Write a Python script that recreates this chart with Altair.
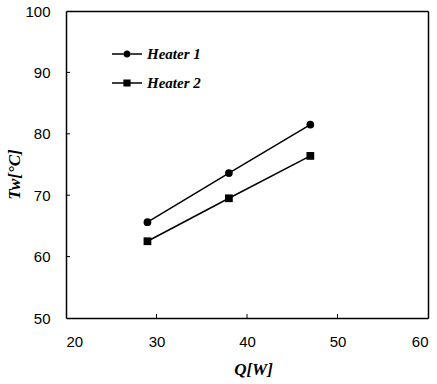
import altair as alt
import pandas as pd

# Data
Q = [29, 38, 47]
heater1 = [65.6, 73.6, 81.5]
heater2 = [62.5, 69.5, 76.4]
series_names = ["Heater 1", "Heater 2"]
x_ticks = [20, 30, 40, 50, 60]
y_ticks = [50, 60, 70, 80, 90, 100]

rows = []
for q, t in zip(Q, heater1):
    rows.append({"Q": q, "T": t, "series": series_names[0]})
for q, t in zip(Q, heater2):
    rows.append({"Q": q, "T": t, "series": series_names[1]})
df = pd.DataFrame(rows)

W, H = 362, 307

xscale = alt.Scale(domain=[20, 60], nice=False, zero=False)
yscale = alt.Scale(domain=[50, 100], nice=False, zero=False)

xaxis = alt.Axis(
    values=x_ticks, ticks=False, grid=False, domain=True, domainColor="black", domainWidth=1.5,
    labelFont="Liberation Sans", labelFontSize=15, labelColor="black", labelPadding=16,
    title="Q[W]", titleFont="Liberation Serif", titleFontSize=17, titleFontStyle="italic",
    titleFontWeight="bold", titleColor="black", titleX=187, titleY=56,
    titleBaseline="alphabetic", titleAlign="center",
)
yaxis = alt.Axis(
    values=y_ticks, ticks=False, grid=False, domain=True, domainColor="black", domainWidth=1.5,
    labelFont="Liberation Sans", labelFontSize=15, labelColor="black", labelPadding=16,
    title="Tw[°C]", titleFont="Liberation Serif", titleFontSize=17, titleFontStyle="italic",
    titleFontWeight="bold", titleColor="black", titleX=-52, titleY=163,
    titleAngle=270, titleAlign="center", titleBaseline="middle",
)
frame_x = alt.Axis(orient="top", labels=False, ticks=False, grid=False, title=None,
                   domain=True, domainColor="black", domainWidth=1.5)
frame_y = alt.Axis(orient="right", labels=False, ticks=False, grid=False, title=None,
                   domain=True, domainColor="black", domainWidth=1.5)

base = alt.Chart(df)

lines = base.mark_line(color="black", strokeWidth=1.5).encode(
    x=alt.X("Q:Q", scale=xscale, axis=xaxis),
    y=alt.Y("T:Q", scale=yscale, axis=yaxis),
    detail="series:N",
)

frame = base.mark_point(opacity=0).encode(
    x=alt.X("Q:Q", scale=xscale, axis=frame_x),
    y=alt.Y("T:Q", scale=yscale, axis=frame_y),
)

points = base.mark_point(filled=True, color="black", opacity=1, size=60).encode(
    x=alt.X("Q:Q", scale=xscale, axis=None),
    y=alt.Y("T:Q", scale=yscale, axis=None),
    shape=alt.Shape("series:N", scale=alt.Scale(domain=series_names, range=["circle", "square"]), legend=None),
)

# legend-only layer (no rows drawn), custom symbols: line + marker
circ_path = ("M-1,-0.045H-0.22V0.045H-1Z M0.22,-0.045H1V0.045H0.22Z "
             "M-0.24,0A0.24,0.24 0 1,0 0.24,0A0.24,0.24 0 1,0 -0.24,0Z")
sq_path = ("M-1,-0.045H-0.22V0.045H-1Z M0.22,-0.045H1V0.045H0.22Z "
           "M-0.24,-0.24H0.24V0.24H-0.24Z")

legend_layer = base.transform_filter("datum.T < 0").mark_point(
    filled=True, color="black", opacity=1
).encode(
    x=alt.X("Q:Q", scale=xscale, axis=None),
    y=alt.Y("T:Q", scale=yscale, axis=None),
    shape=alt.Shape(
        "series:N",
        scale=alt.Scale(domain=series_names, range=[circ_path, sq_path]),
        legend=alt.Legend(
            title=None, orient="none", legendX=46, legendY=28,
            symbolSize=900, symbolFillColor="black", symbolStrokeWidth=0,
            labelFont="Liberation Serif", labelFontSize=15, labelFontStyle="italic",
            labelFontWeight="bold", labelColor="black", labelOffset=5, rowPadding=6,
            padding=0,
        ),
    ),
)

tick_y = alt.Chart(pd.DataFrame({"v": y_ticks[1:-1]})).mark_rule(color="black", strokeWidth=1).encode(
    y=alt.Y("v:Q", scale=yscale, axis=None), x=alt.value(0), x2=alt.value(4)
)
tick_x = alt.Chart(pd.DataFrame({"v": x_ticks[1:-1]})).mark_rule(color="black", strokeWidth=1).encode(
    x=alt.X("v:Q", scale=xscale, axis=None), y=alt.value(H), y2=alt.value(H - 4)
)

chart = alt.layer(lines, frame, points, legend_layer, tick_y, tick_x).resolve_scale(
    shape="independent"
).resolve_axis(
    x="independent", y="independent"
).properties(
    width=W, height=H,
    autosize=alt.AutoSizeParams(type="none"),
    padding={"left": 66, "top": 11, "right": 9, "bottom": 66},
    background="white",
).configure_view(stroke=None)

chart.save("out.html", embed_options={"renderer": "svg", "actions": False})
